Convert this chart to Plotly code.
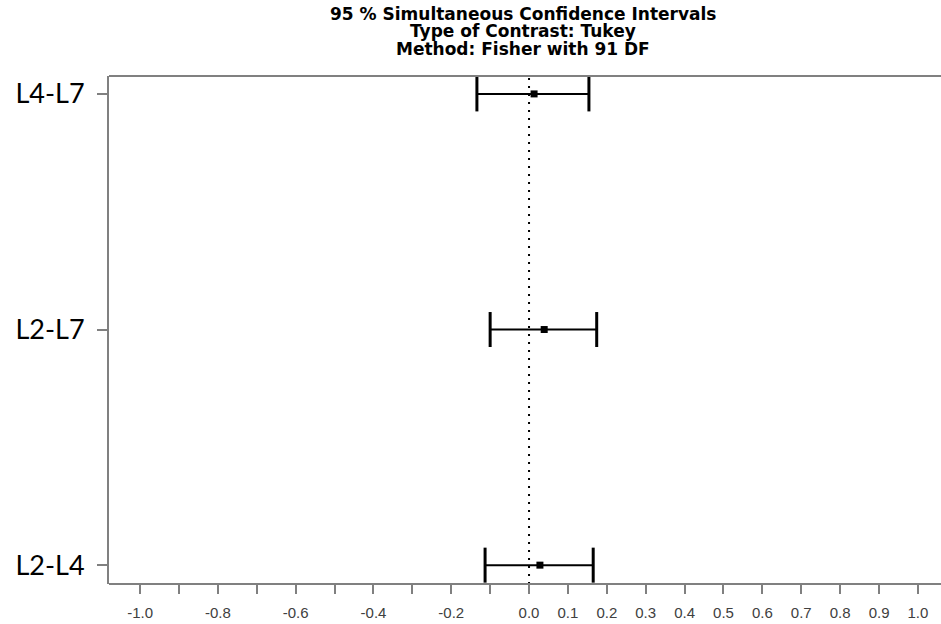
import plotly.graph_objects as go

# Data
comparisons = ["L4-L7", "L2-L7", "L2-L4"]
estimates = [0.013, 0.039, 0.028]
lower = [-0.134, -0.100, -0.113]
upper = [0.154, 0.174, 0.165]

category_order = ["L2-L4", "L2-L7", "L4-L7"]

tick_values = [-1.0, -0.9, -0.8, -0.7, -0.6, -0.5, -0.4, -0.3, -0.2, -0.1,
               0.0, 0.1, 0.2, 0.3, 0.4, 0.5, 0.6, 0.7, 0.8, 0.9, 1.0]
tick_text = ["-1.0", "", "-0.8", "", "-0.6", "", "-0.4", "", "-0.2", "",
             "0.0", "0.1", "0.2", "0.3", "0.4", "0.5", "0.6", "0.7", "0.8", "0.9", "1.0"]

title_lines = ["95 % Simultaneous Confidence Intervals",
               "Type of Contrast: Tukey",
               "Method: Fisher with 91 DF"]

fig = go.Figure()

# interval lines
for c, lo, hi in zip(comparisons, lower, upper):
    fig.add_trace(go.Scatter(
        x=[lo, hi], y=[c, c], mode="lines",
        line=dict(color="black", width=2), showlegend=False, hoverinfo="skip"))

# caps
fig.add_trace(go.Scatter(
    x=lower + upper, y=comparisons + comparisons, mode="markers",
    marker=dict(symbol="line-ns", size=25, line=dict(color="black", width=3)),
    showlegend=False, hoverinfo="skip"))

# estimates
fig.add_trace(go.Scatter(
    x=estimates, y=comparisons, mode="markers",
    marker=dict(symbol="square", size=7, color="black"),
    showlegend=False))

# zero reference line
fig.add_shape(type="line", xref="x", yref="paper", x0=0, x1=0, y0=0, y1=1,
              line=dict(color="black", width=2, dash="2px,6px"), layer="below")

# top frame line (the frame is open on the right)
fig.add_shape(type="line", xref="paper", yref="paper", x0=0, x1=1.01, y0=1, y1=1,
              line=dict(color="#808080", width=2))

# title lines
title_y = [14, 31, 49]
for txt, ypix in zip(title_lines, title_y):
    fig.add_annotation(text="<b>" + txt + "</b>", xref="paper", yref="paper",
                       x=0.5, y=1 + (76 - ypix) / 508.0, showarrow=False,
                       xanchor="center", yanchor="middle",
                       font=dict(family="DejaVu Sans", size=17, color="black"))

fig.update_layout(
    width=941, height=624,
    margin=dict(l=109, r=4, t=76, b=40, autoexpand=False),
    plot_bgcolor="white", paper_bgcolor="white",
    showlegend=False,
    xaxis=dict(
        range=[-1.08, 1.049], tickmode="array", tickvals=tick_values, ticktext=tick_text,
        showgrid=False, zeroline=False, showline=False,
        ticks="outside", ticklen=9, tickwidth=2, tickcolor="#808080",
        tickfont=dict(family="Liberation Sans, Arial", size=15, color="#404040"),
        ticklabelstandoff=6, automargin=False,
    ),
    yaxis=dict(
        type="category", categoryorder="array", categoryarray=category_order,
        range=[-0.08, 2.076], showgrid=False, zeroline=False, showline=True,
        linecolor="#808080", linewidth=2, ticks="outside", ticklen=10, tickwidth=2,
        tickcolor="#808080",
        tickfont=dict(family="Lato, Liberation Sans", size=27, color="black"),
        ticklabelstandoff=7, automargin=False,
    ),
)

# bottom frame line, drawn as a shape so it runs to the page edge
fig.add_shape(type="line", xref="paper", yref="paper", x0=0, x1=1.01, y0=0, y1=0,
              line=dict(color="#808080", width=2))

fig.write_html("out.html", config={"displayModeBar": False},
               post_script="document.body.style.margin='0';document.body.style.overflow='hidden';")
